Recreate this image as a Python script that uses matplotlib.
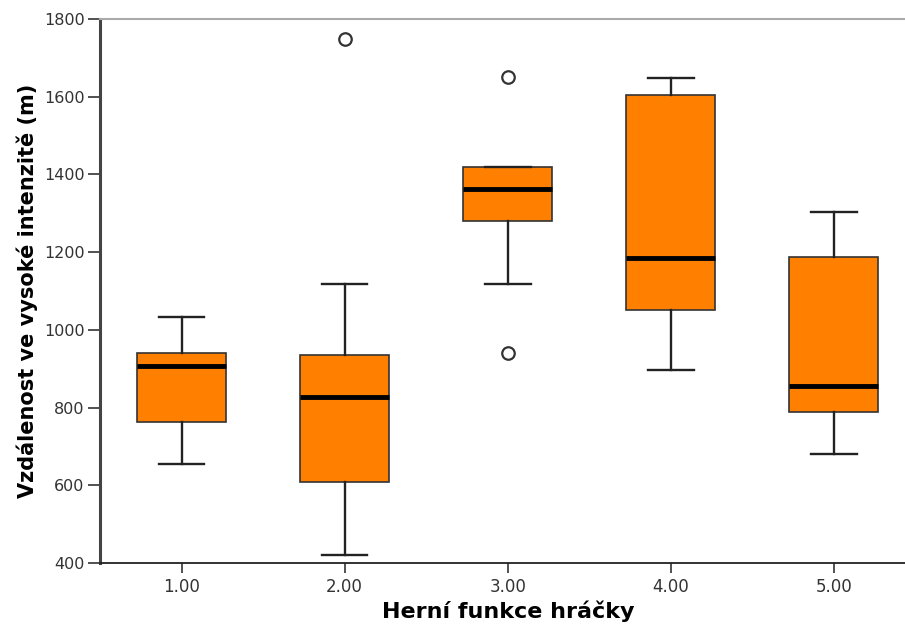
import matplotlib
matplotlib.use("Agg")
import matplotlib.pyplot as plt

categories = ["1.00", "2.00", "3.00", "4.00", "5.00"]
whisker_low = [655, 420, 1118, 897, 680]
q1 = [763, 608, 1280, 1051, 788]
median = [908, 827, 1363, 1184, 855]
q3 = [941, 935, 1418, 1604, 1187]
whisker_high = [1033, 1118, 1418, 1648, 1303]
outliers = [[], [1749], [1651, 941], [], []]

stats = []
for i, c in enumerate(categories):
    stats.append(dict(label=c, whislo=whisker_low[i], q1=q1[i], med=median[i],
                      q3=q3[i], whishi=whisker_high[i], fliers=outliers[i]))

plt.rcParams['font.family'] = ['DejaVu Sans']
fig = plt.figure(figsize=(9.05, 6.24), dpi=100)
ax = fig.add_axes([100 / 905, 61 / 624, 815.5 / 905, 544 / 624])

positions = list(range(1, len(categories) + 1))
ax.bxp(stats, positions=positions, widths=0.546, capwidths=0.28, patch_artist=True,
       boxprops=dict(facecolor='#FF8000', edgecolor='#333333', linewidth=1.2),
       medianprops=dict(color='black', linewidth=3.5),
       whiskerprops=dict(color='#222222', linewidth=1.7),
       capprops=dict(color='#222222', linewidth=1.7),
       flierprops=dict(marker='o', markerfacecolor='white', markeredgecolor='#333333',
                       markersize=9, markeredgewidth=1.6))

ax.set_xlim(0.5, 5.5)
ax.set_ylim(400, 1800)
ax.set_yticks(range(400, 1801, 200))
ax.set_xticks(positions)
ax.set_xticklabels(categories)
ax.tick_params(axis='y', direction='out', length=9, width=1.2, colors='#333333',
               labelsize=11.5, labelcolor='#333333', pad=2)
ax.tick_params(axis='x', direction='out', length=7, width=1.2, colors='#333333',
               labelsize=12, labelcolor='#333333', pad=4)

ax.spines['left'].set_linewidth(2.2)
ax.spines['left'].set_color('#444444')
ax.spines['bottom'].set_linewidth(1.3)
ax.spines['bottom'].set_color('#222222')
ax.spines['top'].set_linewidth(1.5)
ax.spines['top'].set_color('#aaaaaa')
ax.spines['right'].set_visible(False)

ax.set_xlabel('Herní funkce hráčky', fontsize=16, fontweight='bold', labelpad=3)
ax.set_ylabel('Vzdálenost ve vysoké intenzitě (m)', fontsize=15, fontweight='bold', labelpad=4)

fig.savefig('out.png', dpi=100)
